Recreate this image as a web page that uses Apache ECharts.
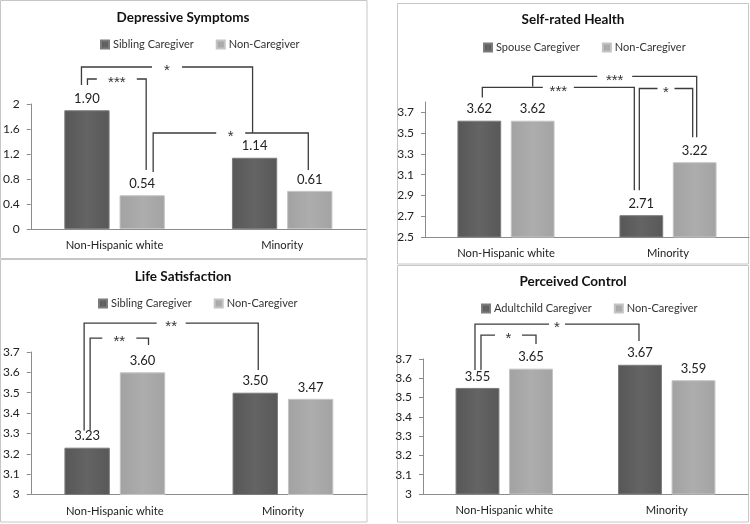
<!DOCTYPE html>
<html>
<head>
<meta charset="utf-8">
<script src="https://cdn.jsdelivr.net/npm/echarts@6/dist/echarts.min.js"></script>
<style>html,body{margin:0;padding:0;background:#fff}#c{width:750px;height:524px}</style>
</head>
<body>
<div id="c"></div>
<script>
// ---------- data ----------
const categories = ['Non-Hispanic white', 'Minority'];
const panelTitles = ['Depressive Symptoms', 'Self-rated Health', 'Life Satisfaction', 'Perceived Control'];
const caregiverNames = ['Sibling Caregiver', 'Spouse Caregiver', 'Sibling Caregiver', 'Adultchild Caregiver'];
const nonCaregiverName = 'Non-Caregiver';
const caregiverValues = [[1.90, 1.14], [3.62, 2.71], [3.23, 3.50], [3.55, 3.67]];
const nonCaregiverValues = [[0.54, 0.61], [3.62, 3.22], [3.60, 3.47], [3.65, 3.59]];
const yTicks1 = [0, 0.4, 0.8, 1.2, 1.6, 2];
const yTicks2 = [2.5, 2.7, 2.9, 3.1, 3.3, 3.5, 3.7];
const yTicks3 = [3, 3.1, 3.2, 3.3, 3.4, 3.5, 3.6, 3.7];
const yTicks4 = [3, 3.1, 3.2, 3.3, 3.4, 3.5, 3.6, 3.7];
const yTicks = [yTicks1, yTicks2, yTicks3, yTicks4];
const yMin = [0, 2.5, 3, 3];
const yMax = [2, 3.8, 3.7, 3.7];
// significance brackets: from/to = [categoryIndex, side(0 caregiver, 1 non)], values in data units
const brackets1 = [
  {from: [0, 0], to: [1, 0], top: 2.592, leftEnd: 2.304, rightEnd: 1.536, label: '*'},
  {from: [0, 0], to: [0, 1], top: 2.40, leftEnd: 2.304, rightEnd: 0.944, label: '***'},
  {from: [0, 1], to: [1, 1], top: 1.536, leftEnd: 0.912, rightEnd: 0.944, label: '*'}
];
const brackets2 = [
  {from: [0, 1], to: [1, 1], top: 4.046, leftEnd: 3.95, rightEnd: 3.46, label: '***'},
  {from: [0, 0], to: [1, 0], top: 3.94, leftEnd: 3.844, rightEnd: 2.951, label: '***'},
  {from: [1, 0], to: [1, 1], top: 3.93, leftEnd: 2.951, rightEnd: 3.46, label: '*'}
];
const brackets3 = [
  {from: [0, 0], to: [1, 0], top: 3.842, leftEnd: 3.315, rightEnd: 3.612, label: '**'},
  {from: [0, 0], to: [0, 1], top: 3.768, leftEnd: 3.315, rightEnd: 3.734, label: '**'}
];
const brackets4 = [
  {from: [0, 0], to: [1, 0], top: 3.881, leftEnd: 3.643, rightEnd: 3.793, label: '*'},
  {from: [0, 0], to: [0, 1], top: 3.824, leftEnd: 3.643, rightEnd: 3.778, label: '*'}
];
const brackets = [brackets1, brackets2, brackets3, brackets4];

// ---------- layout / style ----------
const FONT = 'Lato';
const STAR_FONT = 'Liberation Sans';
const grids = [
  {left: 29, right: 384, top: 104, bottom: 295},
  {left: 425, right: 1, top: 102, bottom: 287},
  {left: 26, right: 383, top: 352, bottom: 29.5},
  {left: 423, right: 2, top: 359, bottom: 30}
];
const titlePos = [[183, 11], [573, 13], [183, 270], [573, 275]];
const legendPos = [[100, 39], [483, 42], [98, 298], [481, 303]];
// [left nudge px, right nudge px, label gap px]
const bracketNudges = [
  [[-5.5, -2, 30], [0.5, 4, 40], [11, -1.5, 29]],
  [[0, 2, 35], [3, -7, 31], [-2, -2, 17]],
  [[-3, 3, 29], [3, 6, 34]],
  [[-2.5, -1, 16], [3.5, 5, 27]]
];
const BAR_W = 0.27, BAR_GAP = 0.22;
const OFF_FRAC = BAR_W * (1 + BAR_GAP) / 2;
const darkColor = new echarts.graphic.LinearGradient(0, 0, 1, 0, [
  {offset: 0, color: '#575757'}, {offset: 0.5, color: '#646464'}, {offset: 1, color: '#585858'}]);
const lightColor = new echarts.graphic.LinearGradient(0, 0, 1, 0, [
  {offset: 0, color: '#a2a2a2'}, {offset: 0.5, color: '#adadad'}, {offset: 1, color: '#a3a3a3'}]);
const axisColor = '#8c8c8c';
const lineColor = '#3c3c3c';

function makeBracketRender(p) {
  const list = brackets[p], nudges = bracketNudges[p];
  return function (params, api) {
    const b = list[params.dataIndex];
    const n = nudges[params.dataIndex];
    const band = api.size([1, 0])[0];
    const off = band * OFF_FRAC;
    const xL = api.coord([b.from[0], 0])[0] + (b.from[1] ? off : -off) + n[0];
    const xR = api.coord([b.to[0], 0])[0] + (b.to[1] ? off : -off) + n[1];
    const yT = api.coord([b.from[0], b.top])[1];
    const yL = api.coord([b.from[0], b.leftEnd])[1];
    const yR = api.coord([b.to[0], b.rightEnd])[1];
    const xm = (xL + xR) / 2, g = n[2] / 2;
    const style = {stroke: lineColor, lineWidth: 1.3, fill: null};
    return {
      type: 'group',
      children: [
        {type: 'polyline', shape: {points: [[xL, yL], [xL, yT], [xm - g, yT]]}, style: style},
        {type: 'polyline', shape: {points: [[xm + g, yT], [xR, yT], [xR, yR]]}, style: style},
        {type: 'text', style: {text: b.label, x: xm, y: yT + 4, align: 'center', verticalAlign: 'middle',
          fill: '#333', font: '15px ' + STAR_FONT}}
      ]
    };
  };
}

const option = {
  animation: false,
  textStyle: {fontFamily: FONT},
  title: panelTitles.map((t, i) => ({
    text: t, left: titlePos[i][0], top: titlePos[i][1], textAlign: 'center', padding: 0,
    textStyle: {fontSize: 13.5, fontWeight: 'bold', color: '#111', fontFamily: FONT}
  })),
  legend: caregiverNames.map((nm, i) => ({
    data: [nm, nonCaregiverName], left: legendPos[i][0], top: legendPos[i][1], padding: 0,
    itemWidth: 8, itemHeight: 8, itemGap: 22, icon: 'rect', selectedMode: false,
    textStyle: {fontSize: 11, color: '#333', fontFamily: FONT, padding: [0, 0, 0, -1]}
  })),
  grid: grids.map(g => Object.assign({containLabel: false}, g)),
  xAxis: grids.map((g, i) => ({
    type: 'category', gridIndex: i, data: categories,
    axisLine: {lineStyle: {color: axisColor}}, axisTick: {show: false},
    axisLabel: {color: '#222', fontSize: 11.2, margin: 11, fontFamily: FONT},
    splitLine: {show: false}
  })),
  yAxis: grids.map((g, i) => ({
    type: 'value', gridIndex: i, min: yMin[i], max: yMax[i],
    axisLine: {show: true, lineStyle: {color: axisColor}},
    axisTick: {show: true, length: 4, lineStyle: {color: axisColor}, customValues: yTicks[i]},
    axisLabel: {color: '#222', fontSize: 12, margin: 11, fontFamily: FONT, customValues: yTicks[i],
      formatter: v => String(Math.round(v * 10) / 10)},
    splitLine: {show: false}
  })),
  series: [],
  graphic: [
    {type: 'rect', shape: {x: 0.5, y: 0.5, width: 366.5, height: 258}, style: {fill: null, stroke: '#c6c6c6', lineWidth: 1}, silent: true, z: -1},
    {type: 'rect', shape: {x: 0.5, y: 259.5, width: 366.5, height: 262.5}, style: {fill: null, stroke: '#c6c6c6', lineWidth: 1}, silent: true, z: -1},
    {type: 'rect', shape: {x: 397.5, y: 3.5, width: 351, height: 260.5}, style: {fill: null, stroke: '#c6c6c6', lineWidth: 1}, silent: true, z: -1},
    {type: 'rect', shape: {x: 397.5, y: 265.5, width: 351, height: 256.5}, style: {fill: null, stroke: '#c6c6c6', lineWidth: 1}, silent: true, z: -1}
  ]
};

const labelCfg = {show: true, position: 'top', distance: 5, color: '#222', fontSize: 13, fontFamily: FONT,
  formatter: p => p.value.toFixed(2)};
for (let i = 0; i < 4; i++) {
  option.series.push({
    type: 'bar', name: caregiverNames[i], xAxisIndex: i, yAxisIndex: i, data: caregiverValues[i],
    barWidth: (BAR_W * 100) + '%', barGap: (BAR_GAP * 100) + '%',
    itemStyle: {color: darkColor, borderColor: '#7c7c7c', borderWidth: 1}, label: labelCfg
  });
  option.series.push({
    type: 'bar', name: nonCaregiverName, xAxisIndex: i, yAxisIndex: i, data: nonCaregiverValues[i],
    barWidth: (BAR_W * 100) + '%', barGap: (BAR_GAP * 100) + '%',
    itemStyle: {color: lightColor, borderColor: '#c4c4c4', borderWidth: 1}, label: labelCfg
  });
  option.series.push({
    type: 'custom', xAxisIndex: i, yAxisIndex: i, silent: true, clip: false, z: 5,
    data: brackets[i].map(b => [b.from[0], b.top]),
    renderItem: makeBracketRender(i)
  });
}

const chart = echarts.init(document.getElementById('c'), null, {renderer: 'canvas'});
chart.setOption(option);
</script>
</body>
</html>
